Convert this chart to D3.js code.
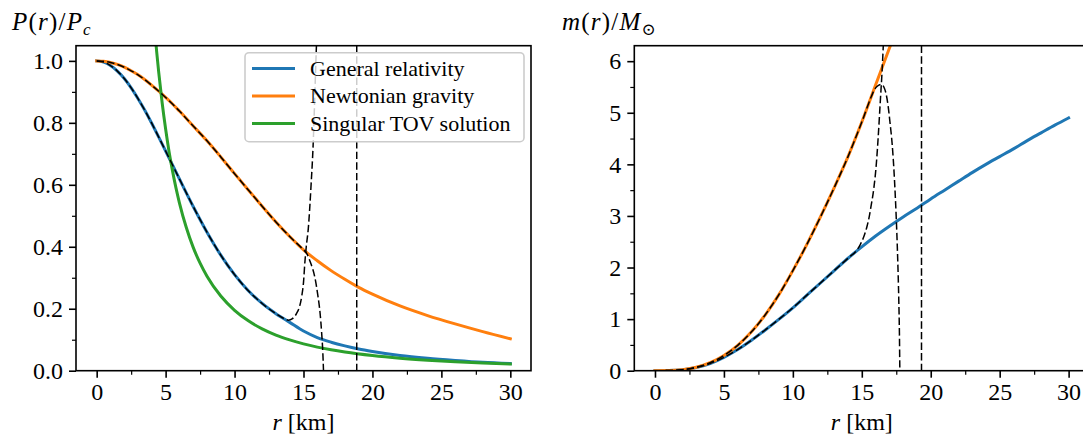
<!DOCTYPE html>
<html><head><meta charset="utf-8">
<script src="https://cdn.jsdelivr.net/npm/d3@7"></script>
<style>
body{margin:0;background:#fff;}
svg{display:block;}
svg text{font-family:"Liberation Serif","DejaVu Serif","Times New Roman",serif;}
</style></head><body>
<svg id="chart" width="1083" height="441"></svg>
<script>
// ---------- data: left panel, P(r)/Pc ----------
const rGrid = [0,0.5,1,1.5,2,2.5,3,3.5,4,4.5,5,5.5,6,7,8,9,10,11,12,13,14,15,16,17,18,19,20,22,24,26,28,30];
const pGR = [1.0,0.996,0.985,0.967,0.943,0.913,0.878,0.84,0.798,0.754,0.709,0.664,0.619,0.53,0.447,0.373,0.31,0.258,0.217,0.184,0.156,0.128,0.107,0.092,0.08,0.07,0.062,0.049,0.04,0.033,0.027,0.023];
const pNewton = [1.0,0.9987,0.9948,0.9885,0.9795,0.968,0.955,0.939,0.921,0.902,0.882,0.861,0.838,0.79,0.742,0.69,0.636,0.583,0.531,0.48,0.433,0.39,0.355,0.323,0.295,0.269,0.247,0.209,0.178,0.151,0.126,0.103];
const rSingular = [4.05,4.2,4.35,4.5,4.75,5,5.25,5.5,5.75,6,6.5,7,7.5,8,9,10,11,12,13,14,15,16,17,18,20,22,24,26,28,30];
const pSingular = [1.189,1.105,1.03,0.963,0.864,0.78,0.707,0.645,0.59,0.542,0.462,0.398,0.347,0.305,0.241,0.195,0.161,0.135,0.115,0.0995,0.0867,0.0762,0.0675,0.0602,0.0488,0.0403,0.0339,0.0288,0.0249,0.0217];
// dashed curves: follow a series up to a radius, then depart
const pDashGRSplit = 13.5;
const pDashGRTail = [[13.7,0.166],[13.9,0.163],[14.2,0.168],[14.5,0.185],[14.7,0.205],[14.87,0.24],[15.0,0.285],[15.1,0.35],[15.2,0.40],[15.35,0.46],[15.55,0.6],[15.7,0.73],[15.8,0.86],[15.9,1.0],[15.98,1.1]];
const pDashNewtonSplit = 15.0;
const pDashNewtonTail = [[15.24,0.378],[15.5,0.35],[15.83,0.3],[16.05,0.24],[16.2,0.187],[16.32,0.12],[16.4,0.06],[16.45,0.0],[16.47,-0.03]];
const pVerticalR = 18.86;

// ---------- data: right panel, m(r)/Msun ----------
const rMass = [0,1,2,3,4,5,6,7,8,9,10,11,12,13,14,15,16,17,18,19,20,21,22,23,24,25,26,27,28,29,30];
const mGR = [0,0.0025,0.019,0.062,0.14,0.26,0.41,0.59,0.79,1.0,1.22,1.46,1.70,1.94,2.18,2.40,2.61,2.80,2.98,3.15,3.33,3.50,3.67,3.84,4.0,4.15,4.30,4.46,4.61,4.76,4.90];
const rMassNewton = [0,1,2,3,4,5,6,7,8,9,10,11,12,13,14,15,16,17,17.5,18];
const mNewton = [0,0.0025,0.02,0.067,0.155,0.295,0.492,0.754,1.084,1.48,1.94,2.44,2.98,3.55,4.15,4.82,5.54,6.25,6.6,6.95];
const mDashGRSplit = 14.5;
const mDashGRTail = [[14.7,2.36],[14.9,2.45],[15.15,2.6],[15.38,2.8],[15.55,3.0],[15.67,3.19],[15.86,3.51],[16.06,4.03],[16.18,4.49],[16.35,5.26],[16.47,5.8],[16.56,6.31],[16.6,6.55]];
const mDashNewtonSplit = 15.0;
const mDashNewtonTail = [[15.7,5.32],[15.9,5.44],[16.1,5.51],[16.3,5.545],[16.45,5.55],[16.6,5.5],[16.75,5.38],[16.9,5.15],[17.05,4.8],[17.2,4.4],[17.35,3.8],[17.5,2.95],[17.6,2.2],[17.68,1.4],[17.73,0.7],[17.76,0.0],[17.77,-0.1]];
const mVerticalR = 19.33;

// ---------- ticks / labels ----------
const xDomain = [-1.5, 31.5];
const xTicks = [0,5,10,15,20,25,30];
const xMinor = [2.5,7.5,12.5,17.5,22.5,27.5];
const pTicks = [0,0.2,0.4,0.6,0.8,1.0];
const pMinor = [0.1,0.3,0.5,0.7,0.9];
const mTicks = [0,1,2,3,4,5,6];
const mMinor = [0.5,1.5,2.5,3.5,4.5,5.5];
const legendLabels = ["General relativity","Newtonian gravity","Singular TOV solution"];
const colors = ["#1f77b4","#ff7f0e","#2ca02c"];

const zip = (a,b) => a.map((v,i)=>[v,b[i]]);
const follow = (rs, vs, split, tail) => zip(rs, vs).filter(d => d[0] <= split).concat(tail);

const svg = d3.select("#chart");
const TOP = 45.7, BOTTOM = 370.7, PW = 455;

function drawPanel(cfg) {
  const x = d3.scaleLinear().domain(xDomain).range([cfg.left, cfg.left + PW]);
  const y = d3.scaleLinear().domain([0, cfg.ymax]).range([BOTTOM, TOP]);
  const g = svg.append("g");
  const clipId = "clip" + cfg.id;
  svg.append("clipPath").attr("id", clipId).append("rect")
    .attr("x", cfg.left).attr("y", TOP).attr("width", PW).attr("height", BOTTOM - TOP);
  const plot = g.append("g").attr("clip-path", `url(#${clipId})`);
  const line = d3.line().x(d => x(d[0])).y(d => y(d[1])).curve(d3.curveMonotoneX);

  cfg.series.forEach(s => {
    plot.append("path").datum(s.data).attr("d", line)
      .attr("fill", "none").attr("stroke", s.color).attr("stroke-width", 3)
      .attr("stroke-linecap", "square").attr("stroke-linejoin", "round");
  });
  cfg.dashed.forEach(d => {
    plot.append("path").datum(d).attr("d", line)
      .attr("fill", "none").attr("stroke", "#000").attr("stroke-width", 1.5)
      .attr("stroke-dasharray", "7.4,3.2");
  });
  plot.append("line")
    .attr("x1", x(cfg.vr)).attr("x2", x(cfg.vr)).attr("y1", TOP).attr("y2", BOTTOM)
    .attr("stroke", "#000").attr("stroke-width", 1.5).attr("stroke-dasharray", "7.4,3.2");

  const styleAxis = sel => {
    sel.attr("font-family", null).attr("font-size", null);
    sel.select(".domain").remove();
    sel.selectAll("line").attr("stroke", "#000");
    sel.selectAll("text").style("font-size", "24px").attr("fill", "#000");
  };
  g.append("g").attr("transform", `translate(0,${BOTTOM})`)
    .call(d3.axisBottom(x).tickValues(xTicks).tickSize(7).tickPadding(5).tickFormat(d3.format("d")))
    .call(styleAxis).call(s => s.selectAll("line").attr("stroke-width", 1.6));
  g.append("g").attr("transform", `translate(0,${BOTTOM})`)
    .call(d3.axisBottom(x).tickValues(xMinor).tickSize(4).tickFormat(""))
    .call(styleAxis).call(s => s.selectAll("line").attr("stroke-width", 1.2));
  g.append("g").attr("transform", `translate(${cfg.left},0)`)
    .call(d3.axisLeft(y).tickValues(cfg.yTicks).tickSize(7).tickPadding(6).tickFormat(cfg.yFormat))
    .call(styleAxis).call(s => s.selectAll("line").attr("stroke-width", 1.6));
  g.append("g").attr("transform", `translate(${cfg.left},0)`)
    .call(d3.axisLeft(y).tickValues(cfg.yMinor).tickSize(4).tickFormat(""))
    .call(styleAxis).call(s => s.selectAll("line").attr("stroke-width", 1.2));

  g.append("rect").attr("x", cfg.left).attr("y", TOP).attr("width", PW).attr("height", BOTTOM - TOP)
    .attr("fill", "none").attr("stroke", "#000").attr("stroke-width", 1.6);

  const xl = g.append("text").attr("x", cfg.left + PW / 2).attr("y", 430)
    .attr("text-anchor", "middle").style("font-size", "24px");
  xl.append("tspan").attr("font-style", "italic").text("r");
  xl.append("tspan").text(" [km]");

  const t = g.append("text").attr("x", cfg.titleX).attr("y", 30)
    .style("font-size", "25px").attr("letter-spacing", 1.2);
  cfg.title.forEach(p => {
    const ts = t.append("tspan").text(p.t);
    if (p.i) ts.attr("font-style", "italic");
    if (p.sub) ts.style("font-size", "17px").attr("dy", 5);
  });
  return {x, y, g};
}

drawPanel({
  id: "P", left: 76, ymax: 1.049, yTicks: pTicks, yMinor: pMinor, yFormat: d3.format(".1f"),
  series: [
    {data: zip(rGrid, pGR), color: colors[0]},
    {data: zip(rGrid, pNewton), color: colors[1]},
    {data: zip(rSingular, pSingular), color: colors[2]}
  ],
  dashed: [
    follow(rGrid, pGR, pDashGRSplit, pDashGRTail),
    follow(rGrid, pNewton, pDashNewtonSplit, pDashNewtonTail)
  ],
  vr: pVerticalR, titleX: 12,
  title: [{t:"P", i:1},{t:"("},{t:"r", i:1},{t:")/"},{t:"P", i:1},{t:"c", i:1, sub:1}]
});

drawPanel({
  id: "M", left: 634.3, ymax: 6.3, yTicks: mTicks, yMinor: mMinor, yFormat: d3.format("d"),
  series: [
    {data: zip(rMass, mGR), color: colors[0]},
    {data: zip(rMassNewton, mNewton), color: colors[1]}
  ],
  dashed: [
    follow(rMass, mGR, mDashGRSplit, mDashGRTail),
    follow(rMassNewton, mNewton, mDashNewtonSplit, mDashNewtonTail)
  ],
  vr: mVerticalR, titleX: 562,
  title: [{t:"m", i:1},{t:"("},{t:"r", i:1},{t:")/"},{t:"M", i:1},{t:"\u2299", sub:1}]
});

const lg = svg.append("g");
lg.append("rect").attr("x", 245).attr("y", 52.7).attr("width", 279).attr("height", 89).attr("rx", 4)
  .attr("fill", "#fff").attr("fill-opacity", 0.8).attr("stroke", "#cccccc").attr("stroke-width", 1.6);
legendLabels.forEach((lab, i) => {
  const yy = 68.5 + i * 27.5;
  lg.append("line").attr("x1", 252).attr("x2", 295).attr("y1", yy).attr("y2", yy)
    .attr("stroke", colors[i]).attr("stroke-width", 3);
  lg.append("text").attr("x", 310).attr("y", yy).attr("dy", "0.33em")
    .style("font-size", "22px").attr("fill", "#000").text(lab);
});
</script>
</body></html>
